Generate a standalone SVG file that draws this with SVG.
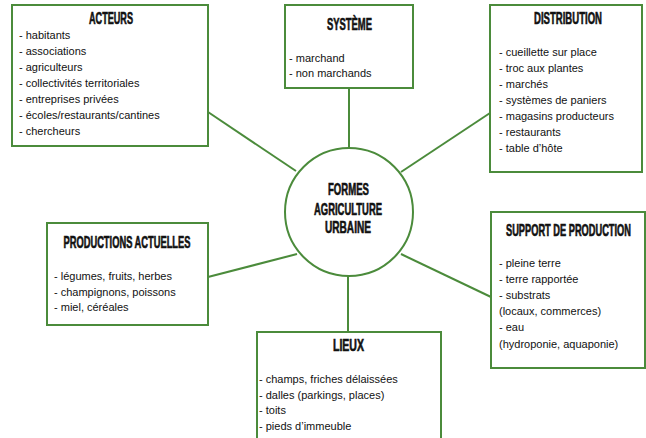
<svg xmlns="http://www.w3.org/2000/svg" width="646" height="438" viewBox="0 0 646 438">
<style>
.box{fill:#fff;stroke:#4b8b3b;stroke-width:2}
.conn line{stroke:#4b8b3b;stroke-width:2}
.t{font-family:"Liberation Sans Narrow","Liberation Sans",Arial,sans-serif;font-weight:bold;font-size:10.5px;fill:#111;stroke:#111;stroke-width:0.4}
.b{font-family:"Liberation Sans",Arial,sans-serif;font-size:11px;fill:#111}
</style>
<rect width="646" height="438" fill="#fff"/>
<g id="connectors" class="conn">
<line x1="208" y1="112" x2="296" y2="171"/>
<line x1="349" y1="88" x2="349" y2="148"/>
<line x1="490" y1="113" x2="401" y2="172"/>
<line x1="208" y1="277" x2="297" y2="254"/>
<line x1="401" y1="254" x2="491" y2="297"/>
<line x1="348" y1="276" x2="348" y2="332"/>
</g>
<g id="center">
<circle class="box" cx="349" cy="212" r="64"/>
<text class="t" text-anchor="middle" x="348.5" y="195" transform="matrix(1,0,0,1.55,0,-107.25)" textLength="41" lengthAdjust="spacingAndGlyphs">FORMES</text>
<text class="t" text-anchor="middle" x="348" y="215" transform="matrix(1,0,0,1.55,0,-118.25)" textLength="68" lengthAdjust="spacingAndGlyphs">AGRICULTURE</text>
<text class="t" text-anchor="middle" x="348" y="233" transform="matrix(1,0,0,1.55,0,-128.15)" textLength="46" lengthAdjust="spacingAndGlyphs">URBAINE</text>
</g>
<g id="acteurs">
<rect class="box" x="12" y="5" width="196" height="141"/>
<text class="t" text-anchor="middle" x="111" y="24" transform="matrix(1,0,0,1.55,0,-13.2)" textLength="44" lengthAdjust="spacingAndGlyphs">ACTEURS</text>
<text class="b" x="19" y="39">- habitants</text>
<text class="b" x="19" y="55">- associations</text>
<text class="b" x="19" y="71">- agriculteurs</text>
<text class="b" x="19" y="87">- collectivités territoriales</text>
<text class="b" x="19" y="103">- entreprises privées</text>
<text class="b" x="19" y="119">- écoles/restaurants/cantines</text>
<text class="b" x="19" y="135">- chercheurs</text>
</g>
<g id="systeme">
<rect class="box" x="285" y="5" width="128" height="83"/>
<text class="t" text-anchor="middle" x="349.5" y="30" transform="matrix(1,0,0,1.55,0,-16.5)" textLength="45" lengthAdjust="spacingAndGlyphs">SYSTÈME</text>
<text class="b" x="289" y="61.5">- marchand</text>
<text class="b" x="289" y="77">- non marchands</text>
</g>
<g id="distribution">
<rect class="box" x="490" y="5" width="152" height="167"/>
<text class="t" text-anchor="middle" x="568" y="24.5" transform="matrix(1,0,0,1.55,0,-13.475)" textLength="68" lengthAdjust="spacingAndGlyphs">DISTRIBUTION</text>
<text class="b" x="499" y="56">- cueillette sur place</text>
<text class="b" x="499" y="72">- troc aux plantes</text>
<text class="b" x="499" y="88">- marchés</text>
<text class="b" x="499" y="104">- systèmes de paniers</text>
<text class="b" x="499" y="120">- magasins producteurs</text>
<text class="b" x="499" y="136">- restaurants</text>
<text class="b" x="499" y="152">- table d’hôte</text>
</g>
<g id="productions">
<rect class="box" x="47" y="223" width="161" height="102"/>
<text class="t" text-anchor="middle" x="127" y="248" transform="matrix(1,0,0,1.55,0,-136.4)" textLength="127" lengthAdjust="spacingAndGlyphs">PRODUCTIONS ACTUELLES</text>
<text class="b" x="54" y="280">- légumes, fruits, herbes</text>
<text class="b" x="54" y="295.5">- champignons, poissons</text>
<text class="b" x="54" y="311">- miel, céréales</text>
</g>
<g id="support">
<rect class="box" x="491" y="212" width="154" height="156"/>
<text class="t" x="506" y="236" style="font-size:10px" transform="matrix(1,0,0,1.63,0,-148.68)" textLength="125" lengthAdjust="spacingAndGlyphs">SUPPORT DE PRODUCTION</text>
<text class="b" x="499" y="267">- pleine terre</text>
<text class="b" x="499" y="283">- terre rapportée</text>
<text class="b" x="499" y="299">- substrats</text>
<text class="b" x="499" y="315">(locaux, commerces)</text>
<text class="b" x="499" y="331">- eau</text>
<text class="b" x="499" y="347.5">(hydroponie, aquaponie)</text>
</g>
<g id="lieux">
<rect class="box" x="257" y="332" width="184" height="120"/>
<text class="t" text-anchor="middle" x="348.5" y="351" transform="matrix(1,0,0,1.55,0,-193.05)" textLength="31" lengthAdjust="spacingAndGlyphs">LIEUX</text>
<text class="b" x="259" y="383">- champs, friches délaissées</text>
<text class="b" x="259" y="398.7">- dalles (parkings, places)</text>
<text class="b" x="259" y="414.3">- toits</text>
<text class="b" x="259" y="430">- pieds d’immeuble</text>
</g>
</svg>
